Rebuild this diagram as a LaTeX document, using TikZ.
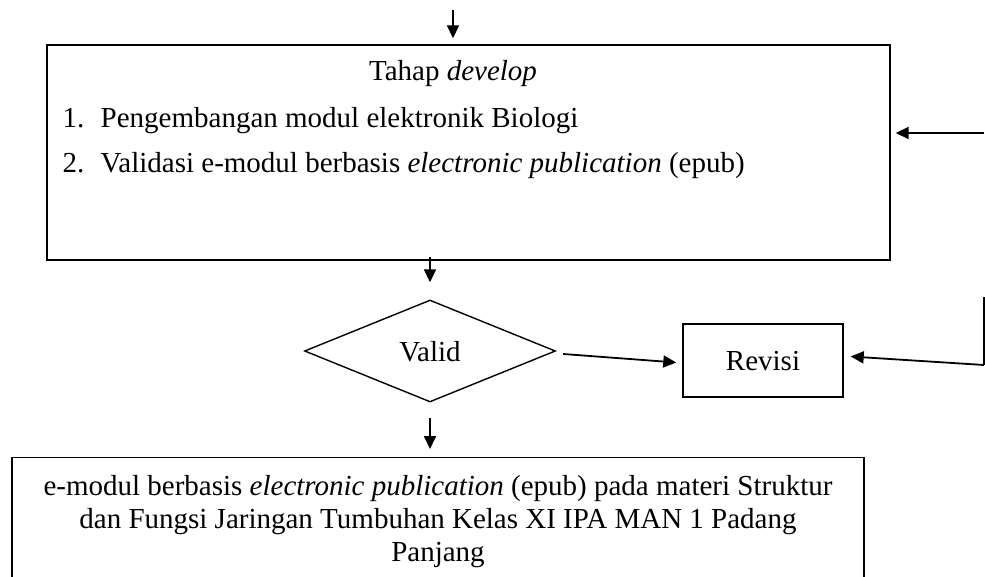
\documentclass[tikz,border=0pt]{standalone}
\usepackage{fontspec}
\setmainfont{Liberation Serif}
\usetikzlibrary{arrows.meta,shapes.geometric,calc}
\begin{document}
\begin{tikzpicture}[x=1pt,y=-1pt,
  line width=1.4pt,
  arr/.style={-{Triangle[length=13pt,width=12pt]}, line width=1.8pt},
  box/.style={draw, rectangle, inner sep=0pt},
  txt/.style={font=\fontsize{29}{33}\selectfont, inner sep=0pt},
]
\useasboundingbox (0,0) rectangle (985,577);
\clip (0,0) rectangle (985,577);

% top box
\node[box, minimum width=843pt, minimum height=215pt] (dev) at (468.5,152.5) {};
\node[txt, anchor=base] (devtitle) at (453,81) {Tahap \textit{develop}};
\node[txt, anchor=base west] (n1) at (62,128) {1.};
\node[txt, anchor=base west] (i1) at (100,128) {Pengembangan modul elektronik Biologi};
\node[txt, anchor=base west] (n2) at (62,173) {2.};
\node[txt, anchor=base west] (i2) at (100,173) {Validasi e-modul berbasis \textit{electronic publication} (epub)};

% diamond
\node[draw, diamond, aspect=2.46, minimum width=251pt, minimum height=102pt, inner sep=0pt] (valid) at (430,351) {};
\node[txt, anchor=base] (validtxt) at (430,361) {Valid};

% revisi
\node[box, minimum width=160pt, minimum height=73pt] (rev) at (763,360.5) {};
\node[txt, anchor=base] (revtxt) at (763,370) {Revisi};

% bottom box
\node[box, minimum width=852pt, minimum height=140pt, anchor=north] (out) at (438,457) {};
\node[txt, anchor=base] (o1) at (438,495) {e-modul berbasis \textit{electronic publication} (epub) pada materi Struktur};
\node[txt, anchor=base] (o2) at (438,528) {dan Fungsi Jaringan Tumbuhan Kelas XI IPA MAN 1 Padang};
\node[txt, anchor=base] (o3) at (438,561) {Panjang};

% connectors
\coordinate (start) at (453,10);
\draw[arr, shorten >=6pt] (start) -- (start |- dev.north);
\coordinate (d1) at (430,257);
\draw[arr, shorten >=17pt] (d1) -- (d1 |- valid.north);
\coordinate (d2) at (430,418);
\draw[arr, shorten >=8pt] (d2) -- (d2 |- out.north);
\draw[arr] ($(valid.east)+(7,3)$) -- ($(rev.west)+(-6,2)$);
\coordinate (r1) at (984,297);
\coordinate (r2) at (984,365);
\draw[line width=1.8pt] (r1) -- (r2);
\draw[arr] (r2) -- ($(rev.east)+(7,-4)$);
\coordinate (r3) at (984,133);
\draw[arr] (r3) -- ($(dev.east |- r3)+(5,0)$);
\end{tikzpicture}
\end{document}
